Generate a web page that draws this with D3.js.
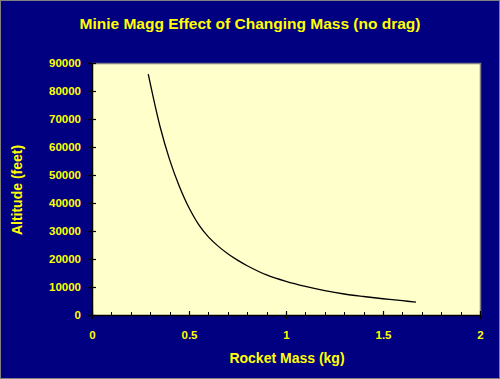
<!DOCTYPE html>
<html><head><meta charset="utf-8">
<script src="https://cdn.jsdelivr.net/npm/d3@7"></script>
<style>html,body{margin:0;padding:0;background:#000080;}svg{display:block;}</style>
</head><body>
<svg id="c" width="500" height="379"></svg>
<script>
const massKg = [0.29, 0.35, 0.40, 0.45, 0.50, 0.55, 0.60, 0.65, 0.70, 0.75, 0.80, 0.90, 1.00, 1.10, 1.20, 1.30, 1.40, 1.50, 1.60, 1.67];
const altitudeFt = [86000, 67500, 55500, 46000, 38300, 32300, 27900, 24600, 21900, 19600, 17600, 14300, 12000, 10200, 8700, 7500, 6600, 5800, 5100, 4600];
const xTicks = [0, 0.5, 1, 1.5, 2];
const yTicks = [0, 10000, 20000, 30000, 40000, 50000, 60000, 70000, 80000, 90000];
const titleText = "Minie Magg Effect of Changing Mass (no drag)";
const xTitle = "Rocket Mass (kg)";
const yTitle = "Altitude (feet)";

const W = 500, H = 379;
const L = 92, R = 480, T = 63, B = 315;
const svg = d3.select("#c");
const font = "'Liberation Sans', Arial, sans-serif";

svg.append("rect").attr("x",0.5).attr("y",0.5).attr("width",W-1).attr("height",H-1)
  .attr("fill","#000080").attr("stroke","#808080").attr("stroke-width",1);

const x = d3.scaleLinear().domain([0,2]).range([L,R]);
const y = d3.scaleLinear().domain([0,90000]).range([B,T]);

svg.append("rect").attr("x",L).attr("y",T).attr("width",R-L).attr("height",B-T)
  .attr("fill","#FFFFCC").attr("stroke","none");
svg.append("path").attr("d",`M${L},${T+0.5}H${R+0.5}V${B}`).attr("fill","none")
  .attr("stroke","#808080").attr("stroke-width",1.5);

svg.append("text").attr("x",250).attr("y",29).attr("text-anchor","middle")
  .attr("font-family",font).attr("font-weight","bold").attr("font-size","15.5px")
  .attr("fill","#FFFF00").text(titleText);

const minor = d3.range(0,2.0001,0.1);
svg.append("g").selectAll("line").data(minor).join("line")
  .attr("x1",d=>Math.round(x(d))+0.5).attr("x2",d=>Math.round(x(d))+0.5)
  .attr("y1",B-3).attr("y2",B).attr("stroke","#000").attr("stroke-width",1);

const xAxis = d3.axisBottom(x).tickValues(xTicks).tickFormat(d=>String(d)).tickSize(4).tickSizeOuter(0);
const gx = svg.append("g").attr("transform",`translate(0,${B})`).call(xAxis);
gx.select(".domain").attr("stroke","#000").attr("stroke-width",1.5);
gx.selectAll(".tick line").attr("stroke","#000").attr("y1",-4).attr("stroke-width",1.2);
gx.selectAll(".tick text").attr("fill","#FFFF00").attr("font-family",font)
  .attr("font-weight","bold").attr("font-size","11.5px").attr("dy","0").attr("y",24);

const yAxis = d3.axisLeft(y).tickValues(yTicks).tickFormat(d=>String(d)).tickSize(4).tickSizeOuter(0);
const gy = svg.append("g").attr("transform",`translate(${L},0)`).call(yAxis);
gy.select(".domain").attr("stroke","#000").attr("stroke-width",1.5);
gy.selectAll(".tick line").attr("stroke","#000").attr("x1",4).attr("stroke-width",1.2);
gy.selectAll(".tick text").attr("fill","#FFFF00").attr("font-family",font)
  .attr("font-weight","bold").attr("font-size","11.5px").attr("x",-11);

const pts = massKg.map((m,i)=>[m, altitudeFt[i]]);
svg.append("path").datum(pts)
  .attr("d", d3.line().x(d=>x(d[0])).y(d=>y(d[1])).curve(d3.curveCatmullRom))
  .attr("fill","none").attr("stroke","#000").attr("stroke-width",1.3);

svg.append("text").attr("x",287).attr("y",363).attr("text-anchor","middle")
  .attr("font-family",font).attr("font-weight","bold").attr("font-size","14px")
  .attr("fill","#FFFF00").text(xTitle);
svg.append("text").attr("transform",`translate(22,190) rotate(-90)`).attr("text-anchor","middle")
  .attr("font-family",font).attr("font-weight","bold").attr("font-size","14px")
  .attr("fill","#FFFF00").text(yTitle);
</script>
</body></html>
